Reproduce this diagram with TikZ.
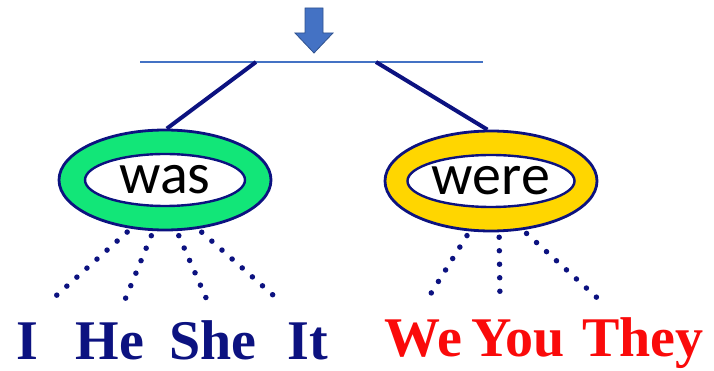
\documentclass[tikz,border=0pt]{standalone}
\usepackage{fontspec}
\usetikzlibrary{shapes.geometric}
\newfontfamily\wasfont{Carlito}
\newfontfamily\wordfont{Liberation Serif}
\definecolor{navy}{RGB}{12,18,128}
\definecolor{ringgreen}{RGB}{18,230,120}
\definecolor{ringyellow}{RGB}{255,214,0}
\definecolor{arrowblue}{RGB}{68,114,196}
\definecolor{arrowedge}{RGB}{47,82,143}
\definecolor{pronred}{RGB}{250,10,10}
\tikzset{
	ring/.style={ellipse,draw=navy,line width=2.8pt,minimum width=212pt,minimum height=100pt},
	hole/.style={ellipse,draw=navy,fill=white,line width=2.4pt,minimum width=160pt,minimum height=52pt,inner sep=0pt,font=\wasfont\fontsize{58}{58}\selectfont},
	pron/.style={anchor=base,inner sep=0pt,font=\wordfont\bfseries\fontsize{56}{60}\selectfont},
	dots/.style={navy,line width=5.5pt,line cap=round,dash pattern=on 0pt off 13.5pt,shorten <=5pt}
}
\begin{document}
\begin{tikzpicture}[x=1pt,y=-1pt]
		\useasboundingbox (0,0) rectangle (714,371);
		\filldraw[fill=arrowblue,draw=arrowedge,line width=0.8pt] (305,8)--(323,8)--(323,33)--(333,33)--(314,53)--(295,33)--(305,33)--cycle;
		\draw[arrowblue,line width=1.4pt] (140,62) coordinate (barL) -- (483,62) coordinate (barR);
		\coordinate (tl) at (256,62);
		\coordinate (tr) at (376,62);
		\node (wasring) at (165,180) [ring,fill=ringgreen] {};
		\node (was) at (wasring.center) [hole] {was};
		\node (werering) at (491,181) [ring,fill=ringyellow] {};
		\node (were) at (werering.center) [hole] {were};
		\draw[navy,line width=4pt] (tl)--(wasring.88) (tr)--(werering.94);
		\foreach \w/\x/\y/\c in {I/27/359/navy,He/110/359/navy,She/213/359/navy,It/308/359/navy,We/423/356/pronred,You/518/356/pronred,They/643/356/pronred}
			\node (\w) at (\x,\y) [pron,text=\c] {\w};
		\foreach \e/\x/\y in {eI/48/303,eHe/122/307,eShe/210/307,eIt/282/303,eWe/425/303,eYou/500/300,eThey/605/305}
			\coordinate (\e) at (\x,\y);
		\foreach \a/\e in {235/eI,257/eHe,283/eShe,304/eIt}
			\draw[dots] (wasring.\a)--(\e);
		\foreach \a/\e in {247/eWe,279/eYou,303/eThey}
			\draw[dots] (werering.\a)--(\e);
	\end{tikzpicture}
\end{document}
